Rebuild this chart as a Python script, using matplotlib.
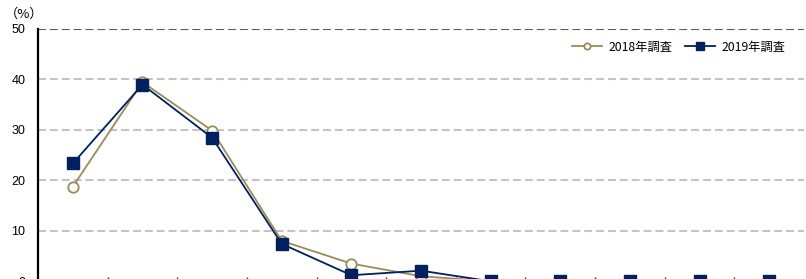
import matplotlib
matplotlib.use("Agg")
import matplotlib.pyplot as plt

plt.rcParams['font.family'] = ['Noto Sans CJK JP', 'DejaVu Sans']

categories = list(range(11))
series_2018 = [18.7, 39.4, 29.8, 8.0, 3.5, 1.0, 0, 0, 0, 0, 0]
series_2019 = [23.3, 38.9, 28.4, 7.4, 1.2, 2.1, 0, 0, 0, 0, 0]
label_2018 = "2018年調査"
label_2019 = "2019年調査"
y_ticks = [0, 10, 20, 30, 40, 50]

W, H = 806, 279
fig = plt.figure(figsize=(W / 100, H / 100), dpi=100)
left_px, right_px = 38, 804
top_px, zero_px = 28.5, 281.3
ax = fig.add_axes([left_px / W, (H - zero_px) / H,
                   (right_px - left_px) / W, (zero_px - top_px) / H])

x = list(range(len(categories)))
olive = "#9a8c5a"
navy = "#002060"

ax.plot(x, series_2018, color=olive, lw=1.3, marker='o', ms=7.5,
        mfc='white', mec=olive, mew=1.3, label=label_2018, zorder=3)
ax.plot(x, series_2019, color=navy, lw=1.3, marker='s', ms=8.5,
        mfc=navy, mec=navy, label=label_2019, zorder=4)

ax.set_xlim(-0.5, len(categories) - 0.5)
ax.set_ylim(0, 50)

for v in y_ticks[1:]:
    col = "#5a5a5a" if v == 50 else "#c4c4c4"
    ax.axhline(v, color=col, lw=1.5, linestyle=(0, (3.8, 1.9)), zorder=1)

for s in ['top', 'right']:
    ax.spines[s].set_visible(False)
ax.spines['left'].set_color('black')
ax.spines['left'].set_linewidth(1.6)
ax.spines['bottom'].set_color('black')

ax.set_yticks(y_ticks)
ax.set_yticklabels([str(v) for v in y_ticks], family=['Liberation Sans', 'DejaVu Sans'], fontsize=9)
ax.tick_params(axis='y', length=0, pad=9)
ax.set_xticks([i + 0.5 for i in x[:-1]])
ax.set_xticklabels([])
ax.tick_params(axis='x', direction='in', length=3, width=1, color='#404040')

fig.text(24 / W, 1 - 14 / H, "（%）", ha='center', va='center', fontsize=9.5)

leg = ax.legend(loc='center right', bbox_to_anchor=(792 / W, 1 - 47 / H),
                bbox_transform=fig.transFigure, ncol=2, frameon=False,
                fontsize=8.8, handlelength=2.4, handletextpad=0.6,
                columnspacing=1.0, borderpad=0, markerscale=0.6)

fig.savefig("out.png", dpi=100)
